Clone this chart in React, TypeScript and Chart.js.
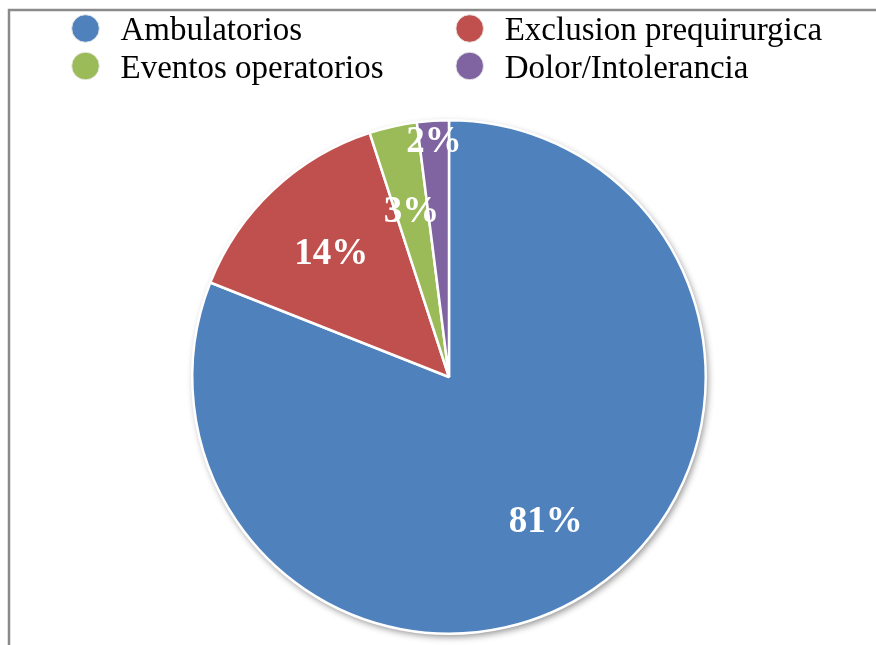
import React, { useEffect, useRef } from "react";
import { Chart, registerables } from "chart.js";

Chart.register(...registerables);

const categories = ["Ambulatorios", "Exclusion prequirurgica", "Eventos operatorios", "Dolor/Intolerancia"];
const percentages = [81, 14, 3, 2];
const sliceColors = ["#4F81BD", "#C0504D", "#9BBB59", "#8064A2"];

const W = 876;
const H = 645;
const SERIF = "'Liberation Serif', 'Times New Roman', serif";

// Soft drop shadow under the pie, painted before the slices
const pieShadow = {
  id: "pieShadow",
  beforeDatasetsDraw(chart: any) {
    const meta = chart.getDatasetMeta(0);
    const arc = meta.data[0];
    if (!arc) return;
    const { x, y, outerRadius } = arc.getProps(["x", "y", "outerRadius"], true);
    const ctx = chart.ctx;
    ctx.save();
    ctx.shadowColor = "rgba(0,0,0,0.45)";
    ctx.shadowBlur = 7;
    ctx.shadowOffsetX = 2;
    ctx.shadowOffsetY = 3;
    ctx.beginPath();
    ctx.arc(x, y, outerRadius, 0, Math.PI * 2);
    ctx.fillStyle = "#ffffff";
    ctx.fill();
    ctx.restore();
  },
};

// Frame lines along the top and left edges
const frame = {
  id: "frame",
  beforeDraw(chart: any) {
    const ctx = chart.ctx;
    ctx.save();
    ctx.strokeStyle = "#8a8a8a";
    ctx.lineWidth = 2.5;
    ctx.beginPath();
    ctx.moveTo(9, H);
    ctx.lineTo(9, 10);
    ctx.lineTo(W, 10);
    ctx.stroke();
    ctx.restore();
  },
};

// Two-column legend with round markers
const gridLegend = {
  id: "gridLegend",
  afterDraw(chart: any) {
    const ctx = chart.ctx;
    const cols = [85.5, 469.7];
    const rows = [28.5, 66];
    const order = [0, 2, 1, 3]; // column-major placement
    ctx.save();
    ctx.font = `33px ${SERIF}`;
    ctx.textBaseline = "alphabetic";
    ctx.textAlign = "left";
    order.forEach((idx, k) => {
      const cx = cols[Math.floor(k / 2)];
      const cy = rows[k % 2];
      ctx.beginPath();
      ctx.arc(cx, cy, 13.8, 0, Math.PI * 2);
      ctx.fillStyle = sliceColors[idx];
      ctx.fill();
      ctx.lineWidth = 1;
      ctx.strokeStyle = "rgba(235,235,235,0.9)";
      ctx.stroke();
      ctx.fillStyle = "#000000";
      ctx.fillText(categories[idx], cx + 35, cy + 11.5);
    });
    ctx.restore();
  },
};

// Percentage labels inside each slice
const sliceLabels = {
  id: "sliceLabels",
  afterDatasetsDraw(chart: any) {
    const ctx = chart.ctx;
    const meta = chart.getDatasetMeta(0);
    ctx.save();
    ctx.font = `bold 37px ${SERIF}`;
    ctx.fillStyle = "#ffffff";
    ctx.textAlign = "center";
    ctx.textBaseline = "alphabetic";
    meta.data.forEach((arc: any, i: number) => {
      const { x, y, startAngle, endAngle, outerRadius } = arc.getProps(
        ["x", "y", "startAngle", "endAngle", "outerRadius"],
        true
      );
      const mid = (startAngle + endAngle) / 2;
      const f = i === meta.data.length - 1 ? 0.925 : 0.67;
      const r = outerRadius * f;
      ctx.fillText(`${percentages[i]}%`, x + Math.cos(mid) * r, y + Math.sin(mid) * r + 12.5);
    });
    ctx.restore();
  },
};

export default function App() {
  const ref = useRef<HTMLCanvasElement | null>(null);

  useEffect(() => {
    if (!ref.current) return;
    const chart = new Chart(ref.current, {
      type: "pie",
      data: {
        labels: categories,
        datasets: [
          {
            data: percentages,
            backgroundColor: sliceColors,
            borderColor: "#ffffff",
            borderWidth: 2.5,
            hoverOffset: 0,
          },
        ],
      },
      options: {
        responsive: false,
        animation: false,
        layout: { padding: { left: 191, right: 169, top: 119, bottom: 10 } },
        plugins: {
          legend: { display: false },
          tooltip: { enabled: false },
        },
      },
      plugins: [frame, pieShadow, sliceLabels, gridLegend],
    });
    return () => chart.destroy();
  }, []);

  return (
    <div style={{ position: "fixed", left: 0, top: 0, width: W, height: H, background: "#ffffff" }}>
      <canvas ref={ref} width={W} height={H} style={{ width: W, height: H, display: "block" }} />
    </div>
  );
}
